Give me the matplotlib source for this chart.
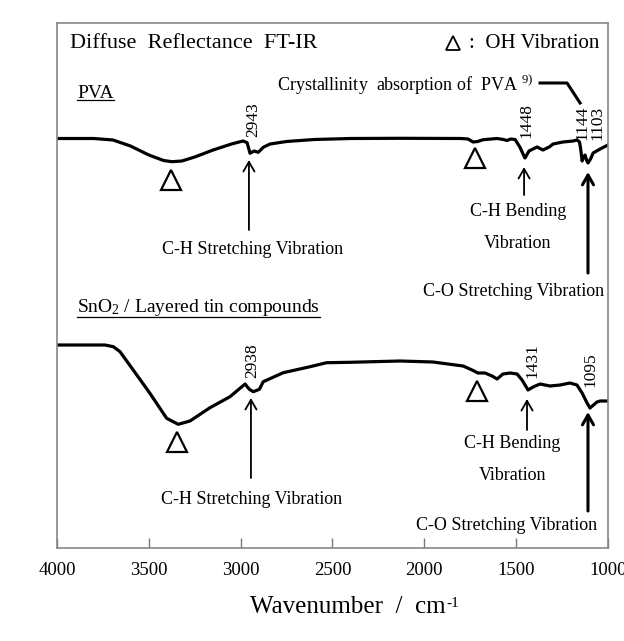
import matplotlib
matplotlib.use("Agg")
import matplotlib.pyplot as plt
from matplotlib.lines import Line2D

plt.rcParams['font.family'] = ['Liberation Serif', 'DejaVu Serif']
plt.rcParams['mathtext.fontset'] = 'custom'
plt.rcParams['mathtext.rm'] = 'Liberation Serif'
plt.rcParams['mathtext.it'] = 'Liberation Serif:italic'

# spectra (reflectance in arbitrary units)
pva_wn = [4000, 3800, 3695, 3600, 3500, 3420, 3374, 3320, 3250, 3150, 3050,
          2987, 2965, 2949, 2927, 2904, 2877, 2840, 2750, 2600, 2400, 2132,
          1800, 1762, 1735, 1710, 1680, 1604, 1570, 1550, 1530, 1506, 1480,
          1460, 1452, 1430, 1414, 1386, 1354, 1320, 1299, 1245, 1190, 1169,
          1155, 1148, 1141, 1133, 1125, 1117, 1109, 1095, 1081, 1043, 1000]
pva_r = [409.5, 409.5, 408, 402, 393, 387.5, 386.3, 387, 391, 398, 404,
         407, 405.3, 394.7, 397, 395.7, 400.7, 404, 406.5, 408.5, 409.5, 409.7,
         409.5, 409, 406, 406.5, 408.3, 409.5, 408.5, 407.5, 409, 408.5, 401,
         393, 390, 397, 398.5, 401, 398, 401, 404, 406, 407, 408,
         406, 398, 387, 391, 393, 388, 385, 389, 395, 399, 403]

sn_wn = [4000, 3739, 3693, 3657, 3585, 3494, 3403, 3340, 3276, 3167, 3058,
         2976, 2953, 2931, 2898, 2877, 2768, 2622, 2532, 2405, 2132, 1953,
         1789, 1740, 1708, 1670, 1631, 1604, 1572, 1533, 1495, 1468, 1435,
         1408, 1370, 1316, 1261, 1207, 1169, 1141, 1114, 1098, 1060, 1043, 1000]
sn_r = [203, 203, 201.3, 196.3, 178, 154.7, 129.7, 123.7, 127, 140.3, 151.3,
        164, 158.7, 156.3, 158.7, 166.3, 175.3, 181.3, 185.3, 185.7, 187, 186,
        182, 178, 175, 175, 172, 169, 174, 175, 174, 168, 158,
        161, 164, 162, 163, 165, 163, 155, 145, 140, 146, 147, 147]

xticks = [4000, 3500, 3000, 2500, 2000, 1500, 1000]

# OH vibration triangles (wavenumber, reflectance)
oh_wn = [3379, 1724, 3347, 1713]
oh_r = [368, 390, 106, 157]

# peak labels: text, wavenumber, bottom of rotated label
peak_labels = [("2943", 2930, 411), ("1448", 1446, 410), ("1144", 1141, 408),
               ("1103", 1060, 408), ("2938", 2938, 170), ("1431", 1414, 170),
               ("1095", 1098, 161)]

# arrows: wavenumber, tip, tail, line width
arrows = [(2955, 388, 318, 1.3), (1457, 381, 353, 1.3), (1109, 376, 275, 2.2),
          (2944, 150, 70, 1.3), (1441, 149, 118, 1.3), (1109, 136, 37, 2.2)]

fig = plt.figure(figsize=(6.24, 6.41), dpi=100)
ax = fig.add_axes([57 / 624, 93 / 641, 551 / 624, 525 / 641])

ax.plot(pva_wn, pva_r, color='black', lw=2.3, solid_joinstyle='round')
ax.plot(sn_wn, sn_r, color='black', lw=2.3, solid_joinstyle='round')
ax.plot(oh_wn, oh_r, linestyle='none', marker='^', markersize=14,
        markerfacecolor='white', markeredgecolor='black', markeredgewidth=1.6)

ax.set_xlim(4000, 1000)
ax.set_ylim(0, 525)
ax.set_xticks(xticks)
ax.set_xticklabels([str(t) for t in xticks])
ax.set_yticks([])
ax.tick_params(axis='x', direction='in', length=7, width=1, colors='#777777',
               labelcolor='black', labelsize=13.5, pad=10)
for s in ax.spines.values():
    s.set_color('#888888')
    s.set_linewidth(1.2)

# header
ax.text(3929, 505, "Diffuse  Reflectance  FT-IR", fontsize=16, va='center', ha='left')
ax.plot([1845], [505], linestyle='none', marker='^', markersize=10.5,
        markerfacecolor='white', markeredgecolor='black', markeredgewidth=1.3)
ax.text(1757, 505, ":  OH Vibration", fontsize=15, va='center', ha='left')

# sample names
pva_t = ax.text(3891, 455, "PVA", fontsize=14, va='center', ha='left')
sn_t = ax.text(3891, 241, "SnO$_2$ / Layered tin compounds", fontsize=14,
               va='center', ha='left')

# crystallinity note with leader line
ax.text(2802, 463, "Crystallinity  absorption of  PVA $^{9)}$", fontsize=13,
        va='center', ha='left')
ax.plot([1370, 1223, 1152], [465, 465, 445], color='black', lw=2.2)

for txt, w, r in peak_labels:
    ax.text(w, r, txt, rotation=90, fontsize=12.5, ha='center', va='bottom')

for w, tip, tail, lw in arrows:
    ax.annotate('', xy=(w, tip), xytext=(w, tail),
                arrowprops=dict(arrowstyle='->,head_length=0.7,head_width=0.4',
                                lw=lw, color='black', shrinkA=0, shrinkB=0))

# assignment captions
ax.text(3428, 298, "C-H Stretching Vibration", fontsize=13, va='center', ha='left')
ax.text(1490, 336, "C-H Bending", fontsize=13, va='center', ha='center')
ax.text(1490, 305, "Vibration", fontsize=13, va='center', ha='center')
ax.text(1515, 257, "C-O Stretching Vibration", fontsize=13, va='center', ha='center')
ax.text(3434, 48, "C-H Stretching Vibration", fontsize=13, va='center', ha='left')
ax.text(1522, 105, "C-H Bending", fontsize=13, va='center', ha='center')
ax.text(1517, 72, "Vibration", fontsize=13, va='center', ha='center')
ax.text(1555, 22, "C-O Stretching Vibration", fontsize=13, va='center', ha='center')

xlab = fig.text(250 / 624, 1 - 607 / 641, "Wavenumber  /  cm", fontsize=18,
                ha='left', va='center')
fig.text(5 / 624, 1 - 290 / 641, "Reflectance / a.u.", fontsize=19,
         rotation=90, ha='right', va='center')

# underline the sample names, raise the unit exponent
fig.canvas.draw()
renderer = fig.canvas.get_renderer()
W, H = fig.bbox.width, fig.bbox.height
for t, off in [(pva_t, 2), (sn_t, 1)]:
    bb = t.get_window_extent(renderer)
    y = (bb.y0 + off) / H
    fig.add_artist(Line2D([bb.x0 / W, bb.x1 / W], [y, y], color='black', lw=0.9,
                          transform=fig.transFigure))
bb = xlab.get_window_extent(renderer)
fig.text((bb.x1 + 1) / W, (bb.y1 - 1) / H, "-1", fontsize=11, ha='left', va='top')

fig.savefig('out.png', dpi=100)
